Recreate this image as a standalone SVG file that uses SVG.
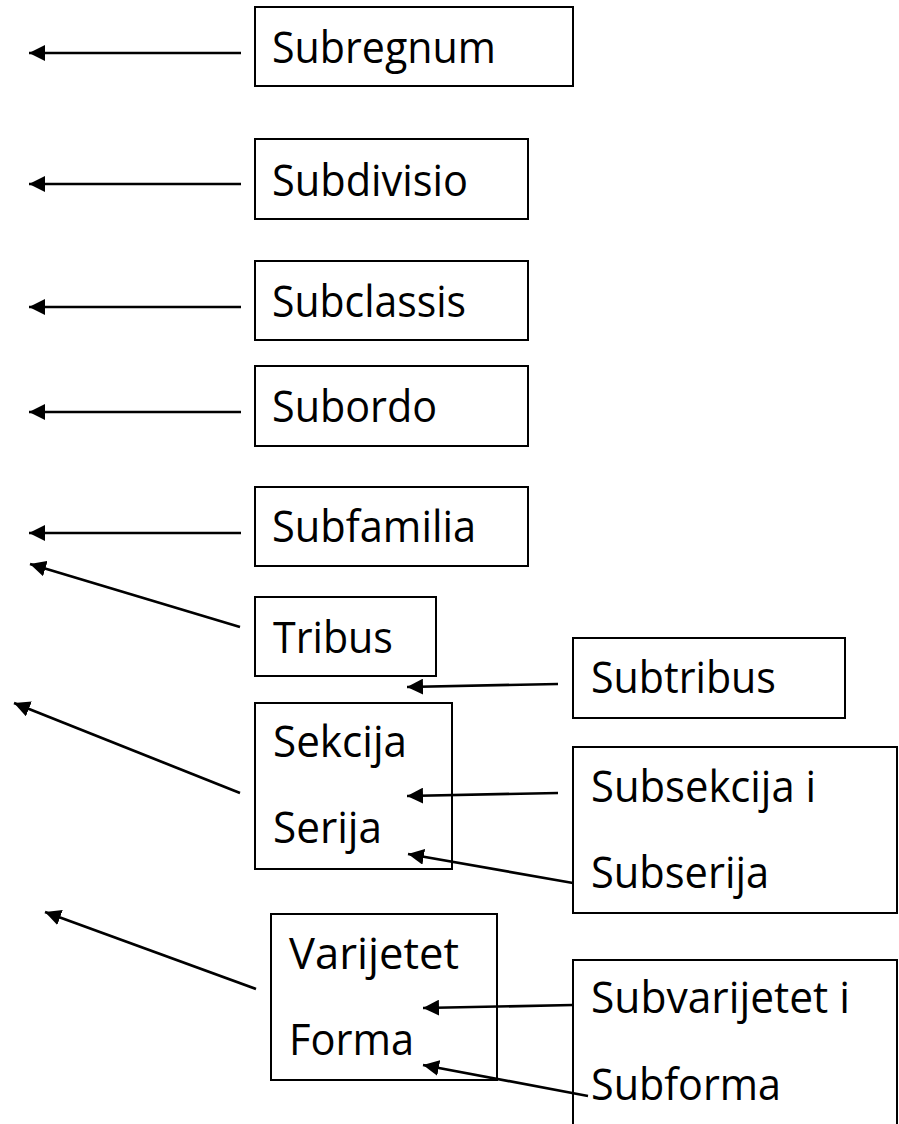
<svg xmlns="http://www.w3.org/2000/svg" width="899" height="1124" viewBox="0 0 899 1124">
<style>
.box{fill:#fff;stroke:#000;stroke-width:2}
.t{font-family:"Open Sans","Liberation Sans",sans-serif;font-size:44px;fill:#000}
.c{stroke:#000;stroke-width:2.7;fill:none;marker-end:url(#ah)}
</style>
<defs>
<marker id="ah" markerUnits="userSpaceOnUse" markerWidth="16" markerHeight="16" refX="16" refY="8" orient="auto"><path d="M0,0 L16,8 L0,16 z" fill="#000"/></marker>
</defs>
<rect width="899" height="1124" fill="#fff"/>
<g id="n-subregnum"><rect class="box" x="255" y="7" width="318" height="79"/><text class="t" x="272" y="63" textLength="224" lengthAdjust="spacingAndGlyphs">Subregnum</text></g>
<g id="n-subdivisio"><rect class="box" x="255" y="139" width="273" height="80"/><text class="t" x="272" y="196" textLength="196" lengthAdjust="spacingAndGlyphs">Subdivisio</text></g>
<g id="n-subclassis"><rect class="box" x="255" y="261" width="273" height="79"/><text class="t" x="272" y="317" textLength="194" lengthAdjust="spacingAndGlyphs">Subclassis</text></g>
<g id="n-subordo"><rect class="box" x="255" y="366" width="273" height="80"/><text class="t" x="272" y="422" textLength="165" lengthAdjust="spacingAndGlyphs">Subordo</text></g>
<g id="n-subfamilia"><rect class="box" x="255" y="487" width="273" height="79"/><text class="t" x="272" y="542" textLength="204" lengthAdjust="spacingAndGlyphs">Subfamilia</text></g>
<g id="n-tribus"><rect class="box" x="255" y="597" width="181" height="79"/><text class="t" x="273" y="653" textLength="120" lengthAdjust="spacingAndGlyphs">Tribus</text></g>
<g id="n-subtribus"><rect class="box" x="573" y="638" width="272" height="80"/><text class="t" x="591" y="693" textLength="185" lengthAdjust="spacingAndGlyphs">Subtribus</text></g>
<g id="n-sekcija"><rect class="box" x="255" y="703" width="197" height="166"/><text class="t" x="273" y="757" textLength="134" lengthAdjust="spacingAndGlyphs">Sekcija</text><text class="t" x="273" y="843" textLength="109" lengthAdjust="spacingAndGlyphs">Serija</text></g>
<g id="n-subsekcija"><rect class="box" x="573" y="747" width="324" height="166"/><text class="t" x="591" y="802" textLength="225" lengthAdjust="spacingAndGlyphs">Subsekcija i</text><text class="t" x="591" y="888" textLength="178" lengthAdjust="spacingAndGlyphs">Subserija</text></g>
<g id="n-varijetet"><rect class="box" x="271" y="914" width="226" height="166"/><text class="t" x="289" y="969" textLength="170" lengthAdjust="spacingAndGlyphs">Varijetet</text><text class="t" x="289" y="1055" textLength="125" lengthAdjust="spacingAndGlyphs">Forma</text></g>
<g id="n-subvarijetet"><rect class="box" x="573" y="960" width="324" height="180"/><text class="t" x="591" y="1013" textLength="259" lengthAdjust="spacingAndGlyphs">Subvarijetet i</text><text class="t" x="591" y="1100" textLength="190" lengthAdjust="spacingAndGlyphs">Subforma</text></g>
<g id="connectors">
<line class="c" x1="241" y1="53" x2="29" y2="53"/>
<line class="c" x1="241" y1="184" x2="29" y2="184"/>
<line class="c" x1="241" y1="307" x2="29" y2="307"/>
<line class="c" x1="241" y1="412" x2="29" y2="412"/>
<line class="c" x1="241" y1="533" x2="29" y2="533"/>
<line class="c" x1="240" y1="627" x2="30" y2="564"/>
<line class="c" x1="558" y1="684" x2="407" y2="687"/>
<line class="c" x1="240" y1="793" x2="14" y2="703"/>
<line class="c" x1="558" y1="793" x2="407" y2="796"/>
<line class="c" x1="573" y1="883" x2="408" y2="854"/>
<line class="c" x1="256" y1="989" x2="45" y2="912"/>
<line class="c" x1="573" y1="1005" x2="423" y2="1008"/>
<line class="c" x1="588" y1="1096" x2="423" y2="1065"/>
</g>
</svg>
